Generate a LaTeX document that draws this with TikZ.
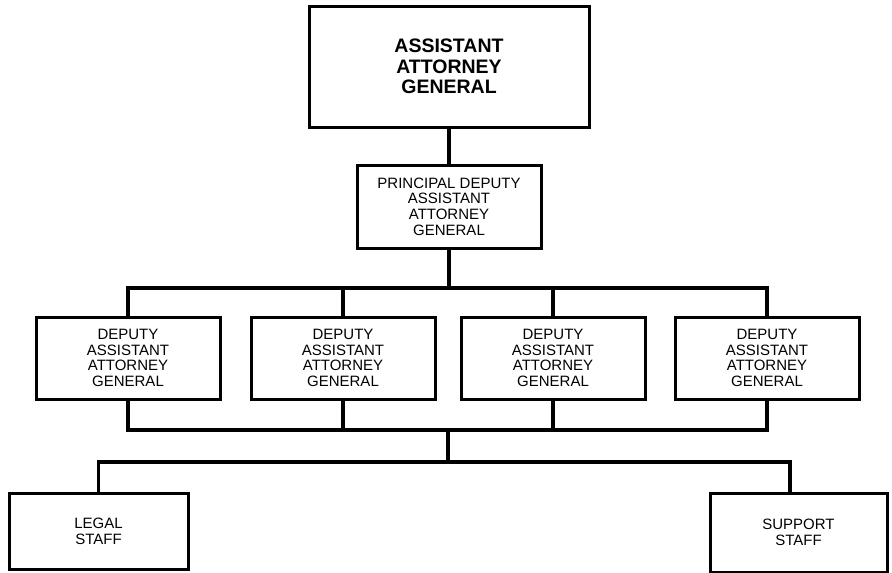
\documentclass[tikz,border=0pt]{standalone}
\usepackage{fontspec}
\setmainfont{Liberation Sans}
\begin{document}
\begin{tikzpicture}[x=1pt,y=-1pt,
  box/.style={draw,line width=3pt,align=center,inner sep=0pt,font=\fontsize{15}{15.7}\selectfont},
  link/.style={line width=3.5pt,line join=miter}]
\useasboundingbox (0,0) rectangle (892,573);
\node[box,minimum width=280pt,minimum height=121pt,font=\bfseries\fontsize{19.5}{20.7}\selectfont] (aag) at (449,66.5) {ASSISTANT\\ATTORNEY\\GENERAL};
\node[box,minimum width=184pt,minimum height=83pt] (pd) at (449,206.5) {PRINCIPAL DEPUTY\\ASSISTANT\\ATTORNEY\\GENERAL};
\node[box,minimum width=184pt,minimum height=82pt] (d1) at (128,358) {DEPUTY\\ASSISTANT\\ATTORNEY\\GENERAL};
\node[box,minimum width=184pt,minimum height=82pt] (d2) at (343,358) {DEPUTY\\ASSISTANT\\ATTORNEY\\GENERAL};
\node[box,minimum width=184pt,minimum height=82pt] (d3) at (553,358) {DEPUTY\\ASSISTANT\\ATTORNEY\\GENERAL};
\node[box,minimum width=184pt,minimum height=82pt] (d4) at (767,358) {DEPUTY\\ASSISTANT\\ATTORNEY\\GENERAL};
\node[box,minimum width=179pt,minimum height=76pt] (legal) at (98.5,531) {LEGAL\\STAFF};
\node[box,minimum width=177pt,minimum height=79pt] (support) at (798.5,532.5) {SUPPORT\\STAFF};
\coordinate (bus1) at (449,288);
\coordinate (bus2) at (448,430);
\coordinate (bus3) at (448,462);
\coordinate (bus3r) at (790,462);
\draw[link] (aag.south) -- (pd.north);
\draw[link] (pd.south) -- (bus1);
\draw[link] (d1.north) -- (d1.north |- bus1) -- (d4.north |- bus1) -- (d4.north);
\draw[link] (d2.north |- bus1) -- (d2.north);
\draw[link] (d3.north |- bus1) -- (d3.north);
\draw[link] (d1.south) -- (d1.south |- bus2) -- (d4.south |- bus2) -- (d4.south);
\draw[link] (d2.south) -- (d2.south |- bus2);
\draw[link] (d3.south) -- (d3.south |- bus2);
\draw[link] (bus2) -- (bus3);
\draw[link] (legal.north) -- (legal.north |- bus3) -- (bus3r) -- (bus3r |- support.north);
\end{tikzpicture}
\end{document}
